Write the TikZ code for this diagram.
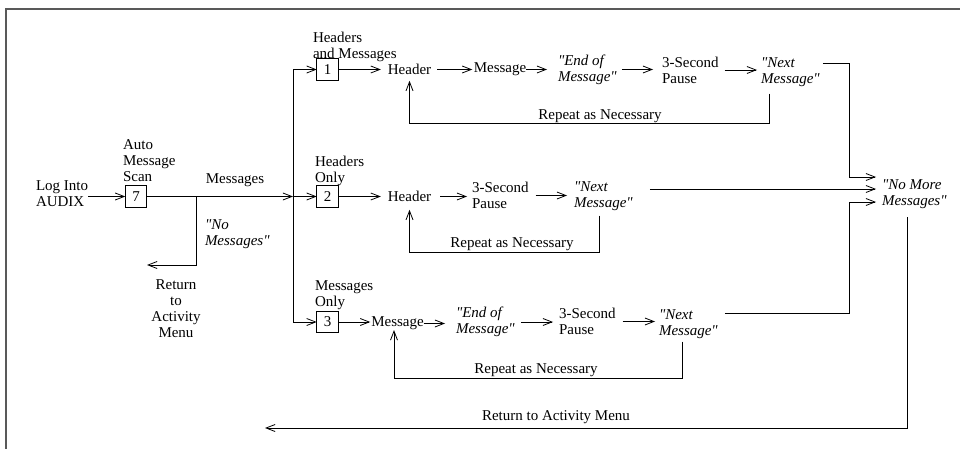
\documentclass[tikz,border=0pt]{standalone}
\usepackage{fontspec}
\setmainfont{Liberation Serif}[Ligatures=TeXOff]
\usetikzlibrary{arrows.meta}
\begin{document}
\begin{tikzpicture}[x=1pt,y=-1pt,
  every node/.style={font=\fontsize{15}{16}\selectfont, inner sep=0pt, outer sep=0pt},
  lbl/.style={align=left},
  ctr/.style={align=center},
  quote/.style={align=left, font=\fontsize{15}{16}\selectfont\itshape},
  numbox/.style={draw, line width=0.8pt, minimum size=21.5pt},
  conn/.style={line width=0.8pt},
  arr/.style={conn, -{Straight Barb[length=9pt,width=7pt]}},
  frame/.style={draw=black!65, line width=1.3pt}]
\useasboundingbox (0,0) rectangle (960,449);
\draw[frame] (6,449) -- (6,9) -- (960,9);

% start
\node[lbl, anchor=west] (login) at (36,193.5) {Log Into\\AUDIX};
\node[numbox] (b7) at (136,196.5) {7};
\node[lbl, anchor=west] (scan) at (123,160.5) {Auto\\Message\\Scan};
\node (msgs) at (235,180.5) {Messages};
\coordinate (j) at (293,196.5);
\coordinate (nm) at (196,196.5);
\node[quote, anchor=west] (nomsg) at (205,234.5) {"No\\Messages"};
\node[ctr] (ret) at (176,308.5) {Return\\to\\Activity\\Menu};
\coordinate (retA) at (147,265);

\draw[arr] (login.east |- b7.west) -- (b7.west);
\draw[arr] (b7.east) -- (j);
\draw[arr] (nm) |- (retA);

% row 1
\node[numbox] (b1) at (327.5,69.5) {1};
\node[lbl, anchor=west] (lb1) at (313,46.5) {Headers\\and Messages};
\node (h1) at (409.5,69.5) {Header};
\node (m1) at (500,69.5) {Message};
\node[quote, anchor=west] (e1) at (558,69.5) {"End of\\Message"};
\node[lbl, anchor=west] (p1) at (662,70) {3-Second\\Pause};
\node[quote, anchor=west] (n1) at (761,72) {"Next\\Message"};
\node (rp1) at (600,116) {Repeat as Necessary};
\coordinate (lp1) at (769,123);

% row 2
\node[numbox] (b2) at (327.5,196.5) {2};
\node[lbl, anchor=west] (lb2) at (315,170.5) {Headers\\Only};
\node (h2) at (409.5,196.5) {Header};
\node[lbl, anchor=west] (p2) at (472,195.5) {3-Second\\Pause};
\node[quote, anchor=west] (n2) at (574,196) {"Next\\Message"};
\node (rp2) at (512,244) {Repeat as Necessary};
\coordinate (lp2) at (599,252);

% row 3
\node[numbox] (b3) at (327.5,322) {3};
\node[lbl, anchor=west] (lb3) at (315,295.5) {Messages\\Only};
\node (m3) at (397.5,323.5) {Message};
\node[quote, anchor=west] (e3) at (456,322) {"End of\\Message"};
\node[lbl, anchor=west] (p3) at (559,321.5) {3-Second\\Pause};
\node[quote, anchor=west] (n3) at (659,324) {"Next\\Message"};
\node (rp3) at (536,370) {Repeat as Necessary};
\coordinate (lp3) at (682,378);

% end
\node[quote, anchor=west] (nomore) at (882,194) {"No More\\Messages"};
\node (retall) at (556,417) {Return to Activity Menu};
\coordinate (retB) at (265,428);

% trunk
\draw[conn] (j |- b1.west) -- (j |- b3.west);
\draw[arr] (j |- b1.west) -- (b1.west);
\draw[arr] (j |- b2.west) -- (b2.west);
\draw[arr] (j |- b3.west) -- (b3.west);

% row 1 arrows
\draw[arr, shorten >=7pt] (b1.east) -- (b1.east -| h1.west);
\draw[arr, shorten <=6pt, shorten >=1.5pt] (h1.east) -- (h1.east -| m1.west);
\draw[arr, shorten >=11pt] (m1.east) -- (m1.east -| e1.west);
\draw[arr, shorten <=5pt, shorten >=9pt] (e1.east) -- (e1.east -| p1.west);
\draw[arr, shorten <=6pt, shorten >=4pt] (p1.east) -- (p1.east -| n1.west);
\draw[arr, shorten <=7pt, shorten >=6pt] (n1.south -| lp1) -- (lp1) -| (h1.south);
\draw[arr] ([xshift=3pt,yshift=9pt]n1.east) -| ([xshift=-33pt,yshift=17pt]nomore.west) -- ([xshift=-6pt,yshift=17pt]nomore.west);

% row 2 arrows
\draw[arr, shorten >=7pt] (b2.east) -- (b2.east -| h2.west);
\draw[arr, shorten <=9pt, shorten >=5pt] (h2.east) -- (h2.east -| p2.west);
\draw[arr, shorten <=7pt, shorten >=7pt] (p2.east) -- (p2.east -| n2.west);
\draw[arr, shorten <=5pt, shorten >=8pt] (n2.south -| lp2) -- (lp2) -| (h2.south);
\draw[arr] ([xshift=17pt,yshift=7pt]n2.east) |- ([xshift=-6pt,yshift=5pt]nomore.west);

% row 3 arrows
\draw[arr, shorten >=1pt] (b3.east) -- (b3.east -| m3.west);
\draw[arr, shorten >=11pt] (m3.east) -- (m3.east -| e3.west);
\draw[arr, shorten <=6pt, shorten >=6pt] (e3.east) -- (e3.east -| p3.west);
\draw[arr, shorten <=7pt, shorten >=4pt] (p3.east) -- (p3.east -| n3.west);
\draw[arr, shorten <=3pt] (n3.south -| lp3) -- (lp3) -| ([xshift=-3.5pt]m3.south);
\draw[arr] ([xshift=7pt,yshift=11pt]n3.east) -| ([xshift=-33pt,yshift=-8pt]nomore.west) -- ([xshift=-6pt,yshift=-8pt]nomore.west);

% return
\draw[arr, shorten <=8.5pt] ([xshift=-7.3pt]nomore.south) |- (retB);
\end{tikzpicture}
\end{document}
